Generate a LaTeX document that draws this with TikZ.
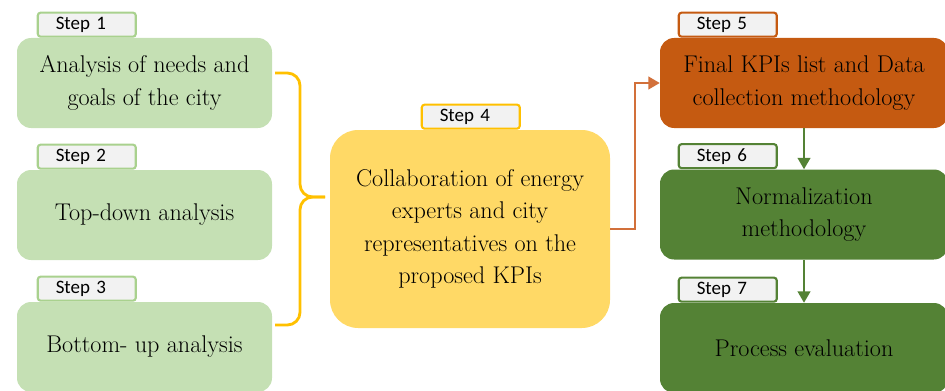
\documentclass[tikz,border=0pt]{standalone}
\usepackage{fontspec}
\newfontfamily\tabfont{Carlito}
\usetikzlibrary{positioning,arrows.meta}
\definecolor{lightgreen}{HTML}{C5E0B4}
\definecolor{tabgreen}{HTML}{A9D18E}
\definecolor{tabgray}{HTML}{F2F2F2}
\definecolor{gold}{HTML}{FFD966}
\definecolor{braceyellow}{HTML}{FFC000}
\definecolor{rust}{HTML}{C55A11}
\definecolor{linkorange}{HTML}{D2703A}
\definecolor{darkgreen}{HTML}{548235}

\begin{document}
\begin{tikzpicture}
	\tikzset{BoxStyle/.style = {rectangle, rounded corners=10pt, minimum width=6.375cm, minimum height=2.25cm,
			align=center, font=\fontsize{17.2}{23}\selectfont},
		TabStyle/.style = {rectangle, draw, rounded corners=2pt, line width=1.5pt, fill=tabgray, minimum height=0.6cm,
			text width=1.55cm, inner xsep=0.45cm, inner ysep=0pt, align=left, font=\tabfont\fontsize{13.5}{14}\selectfont},
		BraceStyle/.style = {draw=braceyellow, line width=2pt, rounded corners=9pt},
		LinkStyle/.style = {line width=1.2pt, -{Triangle[length=8pt,width=9pt]}}}
	\useasboundingbox (0,0) rectangle (23.625,9.75);
	% left column
	\node[BoxStyle, fill=lightgreen] (needs) at (3.6125,7.675) {Analysis of needs and\\goals of the city};
	\node[BoxStyle, fill=lightgreen] (topdown) at (3.6125,4.375) {Top-down analysis};
	\node[BoxStyle, fill=lightgreen] (bottomup) at (3.6125,1.075) {Bottom- up analysis};
	\node[TabStyle, draw=tabgreen, above right=0pt and 0.5cm of needs.north west] (step1) {Step 1};
	\node[TabStyle, draw=tabgreen, above right=0pt and 0.5cm of topdown.north west] (step2) {Step 2};
	\node[TabStyle, draw=tabgreen, above right=0pt and 0.5cm of bottomup.north west] (step3) {Step 3};
	% middle
	\node[BoxStyle, fill=gold, rounded corners=20pt, minimum width=7cm, minimum height=4.95cm] (collab) at (11.75,4.025)
		{Collaboration of energy\\experts and city\\representatives on the\\proposed KPIs};
	\node[TabStyle, draw=braceyellow, above right=0pt and 2.275cm of collab.north west] (step4) {Step 4};
	% right column
	\node[BoxStyle, fill=rust, minimum width=7.2cm] (final) at (20.1,7.675) {Final KPIs list and Data\\collection methodology};
	\node[BoxStyle, fill=darkgreen, minimum width=7.2cm] (norm) at (20.1,4.3875) {Normalization\\methodology};
	\node[BoxStyle, fill=darkgreen, minimum width=7.2cm] (evaluation) at (20.1,1.05) {Process evaluation};
	\node[TabStyle, draw=rust, above right=0pt and 0.45cm of final.north west] (step5) {Step 5};
	\node[TabStyle, draw=darkgreen, above right=0pt and 0.45cm of norm.north west] (step6) {Step 6};
	\node[TabStyle, draw=darkgreen, above right=0pt and 0.45cm of evaluation.north west] (step7) {Step 7};
	% brace and links
	\coordinate (bracetop) at (6.875,7.925);
	\coordinate (bracebot) at (6.875,1.625);
	\coordinate (bracetip) at (8.125,4.825);
	\draw[BraceStyle] (bracetop) -| ([xshift=-0.625cm]bracetip) -- (bracetip);
	\draw[BraceStyle] (bracetip) -- ([xshift=-0.625cm]bracetip) |- (bracebot);
	\draw[LinkStyle, draw=linkorange] (collab.east) -- ++(0.625,0) |- (final.west);
	\draw[LinkStyle, draw=darkgreen] (final.south) -- (norm.north);
	\draw[LinkStyle, draw=darkgreen] (norm.south) -- (evaluation.north);
\end{tikzpicture}
\end{document}
